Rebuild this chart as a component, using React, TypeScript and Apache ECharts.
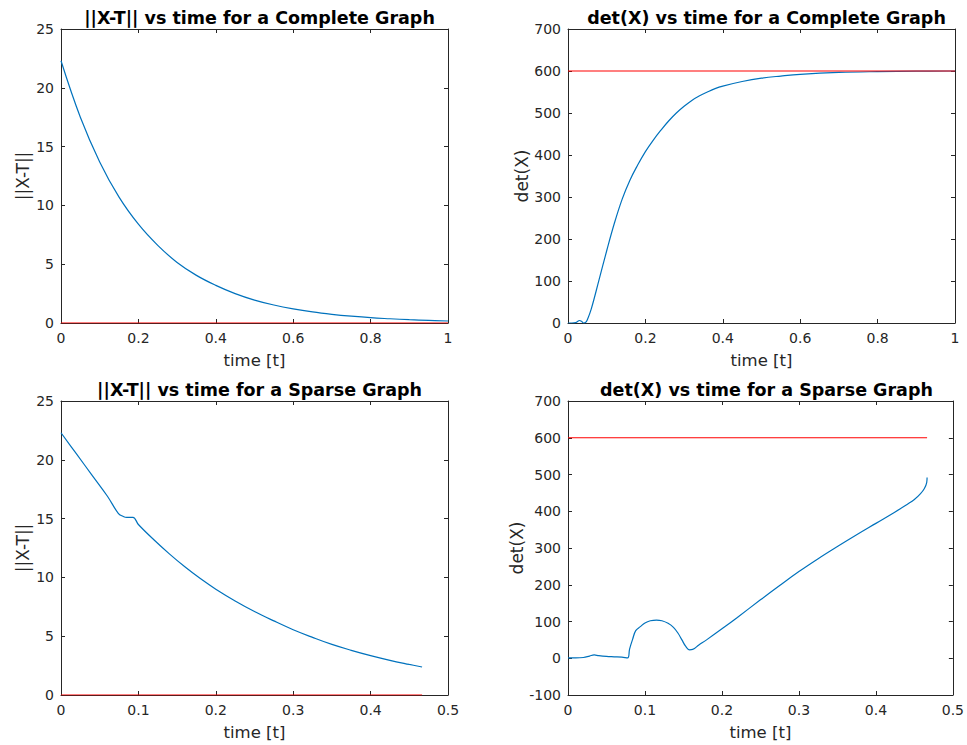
import React, { useEffect, useRef } from "react";
import * as echarts from "echarts";

// ---------- data ----------
const titles = [
  "||X-T|| vs time for a Complete Graph",
  "det(X) vs time for a Complete Graph",
  "||X-T|| vs time for a Sparse Graph",
  "det(X) vs time for a Sparse Graph",
];
const yNames = ["||X-T||", "det(X)", "||X-T||", "det(X)"];
const xName = "time [t]";

// Complete graph ||X-T||
const completeNormT = [0, 0.05, 0.1, 0.15, 0.2, 0.25, 0.3, 0.35, 0.4, 0.45, 0.5, 0.55, 0.6, 0.65, 0.7, 0.75, 0.8, 0.85, 0.9, 0.95, 1.0];
const completeNormV = [22.3, 17.5, 13.7, 10.7, 8.4, 6.6, 5.15, 4.05, 3.2, 2.5, 1.95, 1.53, 1.2, 0.94, 0.74, 0.58, 0.45, 0.36, 0.28, 0.22, 0.17];
const completeNormRefT = [0, 1];
const completeNormRefV = [0, 0];

// Complete graph det(X)
const completeDetT = [0, 0.01, 0.02, 0.03, 0.035, 0.04, 0.045, 0.05, 0.06, 0.08, 0.1, 0.12, 0.14, 0.16, 0.18, 0.2, 0.22, 0.24, 0.26, 0.28, 0.3, 0.32, 0.34, 0.36, 0.38, 0.4, 0.45, 0.5, 0.55, 0.6, 0.7, 0.8, 0.9, 1.0];
const completeDetV = [0, 0, 1, 6, 4, 0, 1, 8, 33, 102, 172, 238, 295, 340, 376, 408, 435, 459, 481, 500, 516, 530, 541, 550, 558, 564, 575, 583, 588, 592, 596.5, 598.5, 599.5, 600];
const completeDetRefT = [0, 1];
const completeDetRefV = [600, 600];

// Sparse graph ||X-T||
const sparseNormT = [0, 0.02, 0.04, 0.06, 0.074, 0.08, 0.085, 0.093, 0.1, 0.12, 0.14, 0.16, 0.18, 0.2, 0.225, 0.25, 0.275, 0.3, 0.325, 0.35, 0.375, 0.4, 0.425, 0.45, 0.4665];
const sparseNormV = [22.3, 20.5, 18.7, 16.9, 15.45, 15.2, 15.1, 15.1, 14.5, 13.2, 12.0, 10.9, 9.9, 9.0, 8.0, 7.1, 6.3, 5.55, 4.9, 4.3, 3.8, 3.35, 2.95, 2.6, 2.38];
const sparseNormRefT = [0, 0.4665];
const sparseNormRefV = [0, 0];

// Sparse graph det(X)
const sparseDetT = [0, 0.01, 0.02, 0.028, 0.034, 0.04, 0.05, 0.06, 0.07, 0.0775, 0.08, 0.084, 0.088, 0.094, 0.1, 0.107, 0.115, 0.122, 0.13, 0.137, 0.143, 0.148, 0.153, 0.158, 0.162, 0.17, 0.18, 0.2, 0.22, 0.25, 0.275, 0.3, 0.325, 0.35, 0.375, 0.4, 0.425, 0.44, 0.45, 0.458, 0.463, 0.466, 0.4665];
const sparseDetV = [1, 1, 2, 6, 9, 7, 5, 4, 3, 1, 25, 52, 75, 86, 96, 102, 104, 102, 95, 84, 68, 50, 32, 23, 24, 36, 50, 80, 111, 159, 198, 236, 271, 304, 336, 367, 398, 418, 432, 448, 462, 478, 492];
const sparseDetRefT = [0, 0.4665];
const sparseDetRefV = [600, 600];

const xRanges = [[0, 1, 0.2], [0, 1, 0.2], [0, 0.5, 0.1], [0, 0.5, 0.1]];
const yRanges = [[0, 25, 5], [0, 700, 100], [0, 25, 5], [-100, 700, 100]];

const blueSets = [
  [completeNormT, completeNormV],
  [completeDetT, completeDetV],
  [sparseNormT, sparseNormV],
  [sparseDetT, sparseDetV],
];
const redSets = [
  [completeNormRefT, completeNormRefV],
  [completeDetRefT, completeDetRefV],
  [sparseNormRefT, sparseNormRefV],
  [sparseDetRefT, sparseDetRefV],
];

const zip = (a: number[], b: number[]) => a.map((v, i) => [v, b[i]]);

export default function App() {
  const ref = useRef<HTMLDivElement>(null);
  useEffect(() => {
    if (!ref.current) return;
    const chart = echarts.init(ref.current, undefined, { renderer: "svg" });
    const FONT = "DejaVu Sans";
    const TXT = "#262626";
    const grids = [
      { left: 61, top: 29, width: 387, height: 294 },
      { left: 568, top: 29, width: 387, height: 294 },
      { left: 61, top: 401, width: 387, height: 294 },
      { left: 568, top: 401, width: 387, height: 294 },
    ];
    const fmt = (v: number) => String(+v.toFixed(3));
    const xAxis: any[] = [];
    const yAxis: any[] = [];
    const series: any[] = [];
    const title: any[] = [];
    grids.forEach((g, i) => {
      const [xmin, xmax, xint] = xRanges[i];
      const [ymin, ymax, yint] = yRanges[i];
      const lineStyle = { color: TXT, width: 1 };
      xAxis.push({
        type: "value", gridIndex: i, position: "bottom", min: xmin, max: xmax, interval: xint,
        name: xName, nameLocation: "middle", nameGap: 29,
        nameTextStyle: { fontFamily: FONT, fontSize: 16.5, color: TXT },
        axisLine: { show: true, onZero: false, lineStyle },
        axisTick: { show: true, inside: true, length: 4, lineStyle },
        axisLabel: { fontFamily: FONT, fontSize: 14, color: TXT, margin: 8, formatter: fmt },
        splitLine: { show: false },
      });
      xAxis.push({
        type: "value", gridIndex: i, position: "top", min: xmin, max: xmax, interval: xint,
        axisLine: { show: true, onZero: false, lineStyle },
        axisTick: { show: true, inside: true, length: 4, lineStyle },
        axisLabel: { show: false },
        splitLine: { show: false },
      });
      yAxis.push({
        type: "value", gridIndex: i, position: "left", min: ymin, max: ymax, interval: yint,
        name: yNames[i], nameLocation: "middle", nameGap: 30,
        nameTextStyle: { fontFamily: FONT, fontSize: 17, color: TXT },
        axisLine: { show: true, onZero: false, lineStyle },
        axisTick: { show: true, inside: true, length: 4, lineStyle },
        axisLabel: { fontFamily: FONT, fontSize: 14, color: TXT, margin: 7, formatter: fmt },
        splitLine: { show: false },
      });
      yAxis.push({
        type: "value", gridIndex: i, position: "right", min: ymin, max: ymax, interval: yint,
        axisLine: { show: true, onZero: false, lineStyle },
        axisTick: { show: true, inside: true, length: 4, lineStyle },
        axisLabel: { show: false },
        splitLine: { show: false },
      });
      title.push({
        text: titles[i],
        left: g.left + g.width / 2,
        top: g.top - 25,
        textAlign: "center",
        textStyle: { fontFamily: FONT, fontSize: 17.5, fontWeight: "bold", color: "#000" },
      });
      series.push({
        type: "line", xAxisIndex: i * 2, yAxisIndex: i * 2,
        data: zip(blueSets[i][0], blueSets[i][1]),
        showSymbol: false, smooth: 0.4,
        lineStyle: { color: "#0072BD", width: 1.2 }, z: 3,
      });
      series.push({
        type: "line", xAxisIndex: i * 2, yAxisIndex: i * 2,
        data: zip(redSets[i][0], redSets[i][1]),
        showSymbol: false,
        lineStyle: { color: "#FF0000", width: 1.2 }, z: 4,
      });
    });
    chart.setOption({
      animation: false,
      backgroundColor: "#ffffff",
      title,
      grid: grids.map((g) => ({ ...g, containLabel: false })),
      xAxis,
      yAxis,
      series,
    });
    return () => chart.dispose();
  }, []);
  return (
    <div
      ref={ref}
      style={{ position: "absolute", left: 0, top: 0, width: 967, height: 745, background: "#fff" }}
    />
  );
}
